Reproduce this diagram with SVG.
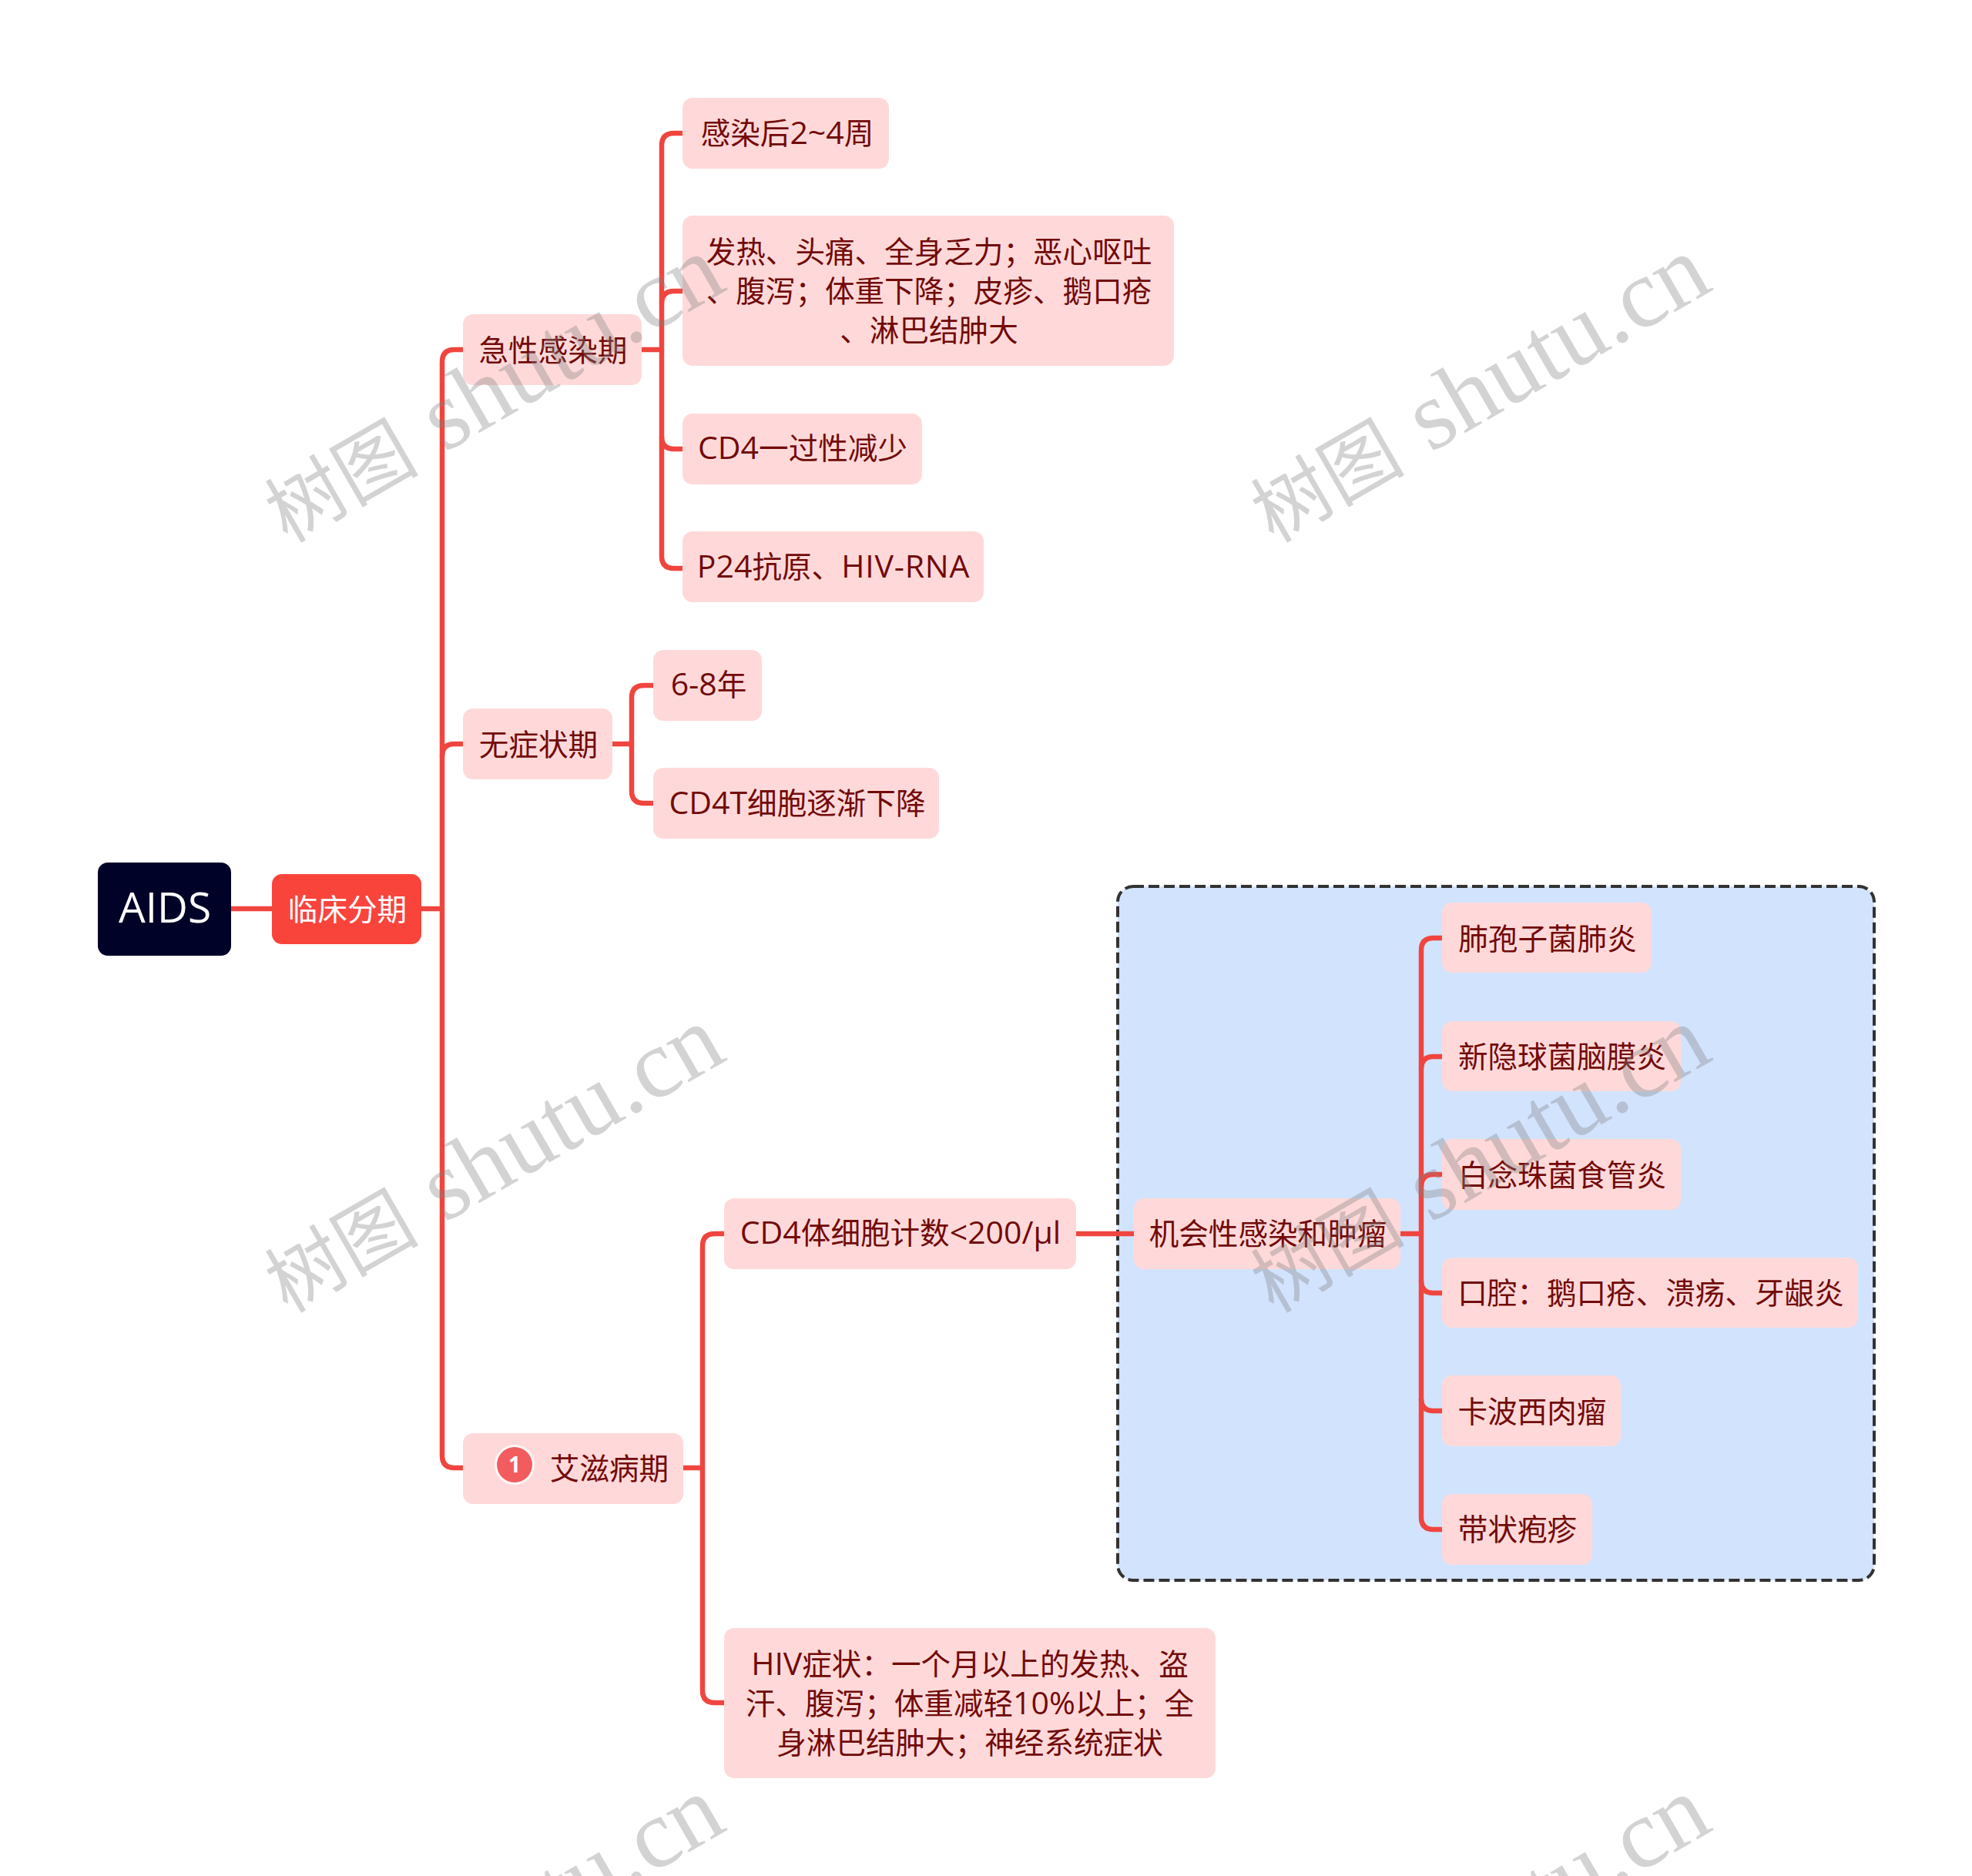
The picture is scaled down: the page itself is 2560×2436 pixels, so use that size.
<svg xmlns="http://www.w3.org/2000/svg" width="2560" height="2436" viewBox="0 0 2560 2436">
<style>
text{font-family:"Open Sans","Noto Sans CJK SC",sans-serif;font-size:38.6px;fill:#720a0a;text-anchor:middle}
.l{font-size:41px}
.n{fill:#ffd9d9}
.c{fill:none;stroke:#f0453f;stroke-width:6.5;stroke-linecap:butt}
.wm{font-family:"Noto Sans CJK SC",sans-serif;font-size:100px;font-weight:400;fill:#808080;fill-opacity:.35;text-anchor:start}
.wl{font-family:"Liberation Serif",serif;font-size:127px;font-weight:400}
</style>
<defs><text id="wmark" class="wm">树图 <tspan class="wl" dx="13">shutu.cn</tspan></text></defs>
<rect width="2560" height="2436" fill="#fff"/>
<g id="group-box"><rect x="1451" y="1151" width="982" height="901" rx="20" fill="#d2e3fe" stroke="#333" stroke-width="4" stroke-dasharray="14 6"/></g>
<g id="connectors">
<path class="c" d="M300 1180H353"/>
<path class="c" d="M547 1180H574"/>
<path class="c" d="M601 454H590Q574 454 574 470V1890Q574 1906 590 1906H601"/>
<path class="c" d="M601 966H590Q574 966 574 982"/>
<path class="c" d="M833 454H859"/>
<path class="c" d="M886 173H875Q859 173 859 189V722Q859 738 875 738H886"/>
<path class="c" d="M886 378H875Q859 378 859 394M859 567Q859 583 875 583H886"/>
<path class="c" d="M795 966H820"/>
<path class="c" d="M848 890H836Q820 890 820 906V1027Q820 1043 836 1043H848"/>
<path class="c" d="M887 1906H912"/>
<path class="c" d="M940 1602H928Q912 1602 912 1618V2195Q912 2211 928 2211H940"/>
<path class="c" d="M1397 1602H1472"/>
<path class="c" d="M1818 1602H1845"/>
<path class="c" d="M1872 1218H1861Q1845 1218 1845 1234V1970Q1845 1986 1861 1986H1872"/>
<path class="c" d="M1872 1372H1861Q1845 1372 1845 1388"/>
<path class="c" d="M1872 1525H1861Q1845 1525 1845 1541"/>
<path class="c" d="M1845 1663Q1845 1679 1861 1679H1872"/>
<path class="c" d="M1845 1816Q1845 1832 1861 1832H1872"/>
</g>
<g id="n-root"><rect x="127" y="1120" width="173" height="121" rx="13" fill="#000228"/><text x="214" y="1198" style="font-size:55px;fill:#fff">AIDS</text></g>
<g id="n-stage"><rect x="353" y="1135" width="194" height="91" rx="13" fill="#f9443c"/><text x="451" y="1195" style="fill:#fff">临床分期</text></g>
<g id="n-acute"><rect class="n" x="601" y="408" width="232" height="92" rx="13"/><text x="718" y="469">急性感染期</text></g>
<g id="n-a1"><rect class="n" x="886" y="127" width="268" height="92" rx="13"/><text x="1022" y="187">感染后<tspan class="l">2~4</tspan>周</text></g>
<g id="n-a2"><rect class="n" x="886" y="280" width="638" height="195" rx="13"/><text x="1206" y="341">发热、头痛、全身乏力；恶心呕吐</text><text x="1206" y="392">、腹泻；体重下降；皮疹、鹅口疮</text><text x="1206" y="443">、淋巴结肿大</text></g>
<g id="n-a3"><rect class="n" x="886" y="537" width="311" height="92" rx="13"/><text x="1042" y="596"><tspan class="l">CD4</tspan>一过性减少</text></g>
<g id="n-a4"><rect class="n" x="886" y="690" width="391" height="92" rx="13"/><text x="1082" y="750"><tspan class="l">P24</tspan>抗原、<tspan class="l" letter-spacing=".8">HIV-RNA</tspan></text></g>
<g id="n-latent"><rect class="n" x="601" y="920" width="194" height="92" rx="13"/><text x="699" y="981">无症状期</text></g>
<g id="n-l1"><rect class="n" x="848" y="844" width="141" height="92" rx="13"/><text x="920" y="903"><tspan class="l">6-8</tspan>年</text></g>
<g id="n-l2"><rect class="n" x="848" y="997" width="371" height="92" rx="13"/><text x="1035" y="1057"><tspan class="l">CD4T</tspan>细胞逐渐下降</text></g>
<g id="n-aids"><rect class="n" x="601" y="1861" width="286" height="92" rx="13"/><circle cx="668" cy="1902" r="26" fill="#fff" fill-opacity=".8"/><circle cx="668" cy="1902" r="23" fill="#f25c5f"/><text x="668" y="1912" style="font-size:28px;font-weight:700;fill:#fff">1</text><text x="791" y="1921">艾滋病期</text></g>
<g id="n-cd4"><rect class="n" x="940" y="1556" width="457" height="92" rx="13"/><text x="1169" y="1615"><tspan class="l">CD4</tspan>体细胞计数<tspan class="l">&lt;200/μl</tspan></text></g>
<g id="n-hiv"><rect class="n" x="940" y="2114" width="638" height="195" rx="13"/><text x="1259" y="2175"><tspan class="l">HIV</tspan>症状：一个月以上的发热、盗</text><text x="1259" y="2226">汗、腹泻；体重减轻<tspan class="l">10%</tspan>以上；全</text><text x="1259" y="2277">身淋巴结肿大；神经系统症状</text></g>
<g id="n-opp"><rect class="n" x="1472" y="1556" width="346" height="92" rx="13"/><text x="1646" y="1616">机会性感染和肿瘤</text></g>
<g id="n-o1"><rect class="n" x="1872" y="1172" width="272" height="91" rx="13"/><text x="2009" y="1233">肺孢子菌肺炎</text></g>
<g id="n-o2"><rect class="n" x="1872" y="1326" width="310" height="91" rx="13"/><text x="2028" y="1386">新隐球菌脑膜炎</text></g>
<g id="n-o3"><rect class="n" x="1872" y="1479" width="310" height="92" rx="13"/><text x="2028" y="1540">白念珠菌食管炎</text></g>
<g id="n-o4"><rect class="n" x="1872" y="1633" width="540" height="91" rx="13"/><text x="2143" y="1693">口腔：鹅口疮、溃疡、牙龈炎</text></g>
<g id="n-o5"><rect class="n" x="1872" y="1786" width="232" height="92" rx="13"/><text x="1989" y="1847">卡波西肉瘤</text></g>
<g id="n-o6"><rect class="n" x="1872" y="1940" width="195" height="92" rx="13"/><text x="1970" y="2000">带状疱疹</text></g>
<g id="watermarks">
<use href="#wmark" transform="translate(373 706) rotate(-30)"/>
<use href="#wmark" transform="translate(1653 706) rotate(-30)"/>
<use href="#wmark" transform="translate(373 1706) rotate(-30)"/>
<use href="#wmark" transform="translate(1653 1706) rotate(-30)"/>
<use href="#wmark" transform="translate(373 2706) rotate(-30)"/>
<use href="#wmark" transform="translate(1653 2706) rotate(-30)"/>
</g>
</svg>
